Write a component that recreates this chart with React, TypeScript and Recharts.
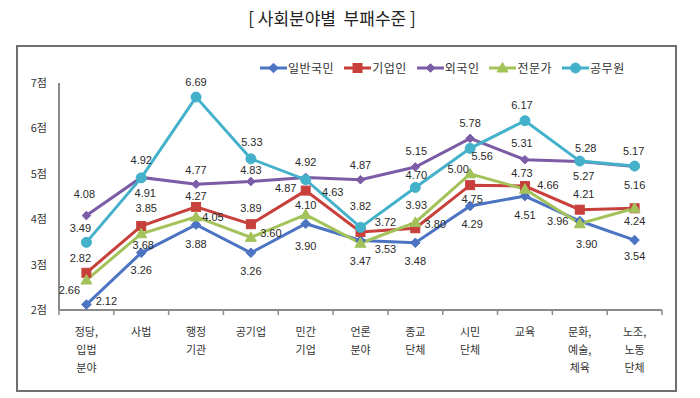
import React from "react";
import { LineChart, Line, XAxis, YAxis } from "recharts";

const categories = [
  "정당,\n입법\n분야",
  "사법",
  "행정\n기관",
  "공기업",
  "민간\n기업",
  "언론\n분야",
  "종교\n단체",
  "시민\n단체",
  "교육",
  "문화,\n예술,\n체육",
  "노조,\n노동\n단체",
];
const seriesNames = ["일반국민", "기업인", "외국인", "전문가", "공무원"];
const generalPublic = [2.12, 3.26, 3.88, 3.26, 3.9, 3.53, 3.48, 4.29, 4.51, 3.96, 3.54];
const businessPeople = [2.82, 3.85, 4.27, 3.89, 4.63, 3.72, 3.8, 4.75, 4.73, 4.21, 4.24];
const foreigners = [4.08, 4.92, 4.77, 4.83, 4.92, 4.87, 5.15, 5.78, 5.31, 5.27, 5.16];
const experts = [2.66, 3.68, 4.05, 3.6, 4.1, 3.47, 3.93, 5.0, 4.66, 3.9, 4.24];
const officials = [3.49, 4.91, 6.69, 5.33, 4.87, 3.82, 4.7, 5.56, 6.17, 5.28, 5.17];
const yTicks = [2, 3, 4, 5, 6, 7];

const seriesKeys = ["s0", "s1", "s2", "s3", "s4"];
const seriesValues = [generalPublic, businessPeople, foreigners, experts, officials];

// styling / layout (not data)
const COLORS = ["#4C74C2", "#C8403C", "#7C5CA6", "#A3C25A", "#44B1CB"];
const SHAPES = ["diamond", "square", "diamondSmall", "triangle", "circle"];
// data label offsets relative to each point [dx, dy]; null = hidden
const LABEL_OFFSETS: (number[] | null)[][] = [
  [[20, -4], [0, 17], [0, 19], [0, 18], [0, 22], [25, 8], [0, 18], [2, 18], [0, 19], [-22, 0], [0, 16]],
  [[-6, -15], [5, -18], [0, -11], [0, -16], [27, 1], [25, -10], [20, -4], [2, 14], [-3, -13], [4, -16], null],
  [[-2, -22], [0, -17], [0, -14], [0, -12], [0, -15], [0, -15], [1, -16], [0, -15], [-3, -17], [4, 14], [0, 18]],
  [[-17, 10], [2, 11], [17, 0], [20, -4], [0, -10], [0, 18], [1, -17], [-12, -5], [23, -4], [7, 20], [0, 13]],
  [[-6, -14], [4, 15], [0, -15], [1, -17], [-20, 8], [0, -21], [1, -12], [12, 8], [-3, -16], [6, -13], [-1, -15]],
];

const data = categories.map((cat, i) => {
  const row: Record<string, any> = { cat };
  seriesKeys.forEach((k, s) => {
    row[k] = seriesValues[s][i];
  });
  return row;
});

const CHART_W = 700;
const CHART_H = 398;
const MARGIN = { top: 83, right: 38, bottom: 0, left: 0 };
const Y_W = 59;
const PLOT_W = CHART_W - MARGIN.left - MARGIN.right - Y_W;
const BAND = PLOT_W / categories.length;
const NUM_FONT = "'Liberation Sans', Arial, sans-serif";
const KR_FONT = "'Noto Sans CJK KR', 'Noto Sans', sans-serif";

function Marker({ shape, cx, cy, color }: { shape: string; cx: number; cy: number; color: string }) {
  if (shape === "diamond") {
    const s = 4.8;
    return <polygon points={`${cx},${cy - s} ${cx + s},${cy} ${cx},${cy + s} ${cx - s},${cy}`} fill={color} stroke={color} />;
  }
  if (shape === "diamondSmall") {
    const s = 4.3;
    return <polygon points={`${cx},${cy - s} ${cx + s},${cy} ${cx},${cy + s} ${cx - s},${cy}`} fill={color} stroke={color} />;
  }
  if (shape === "square") {
    return <rect x={cx - 4.5} y={cy - 4.5} width={9} height={9} fill={color} stroke={color} />;
  }
  if (shape === "triangle") {
    return <polygon points={`${cx},${cy - 5.5} ${cx + 5.5},${cy + 4} ${cx - 5.5},${cy + 4}`} fill={color} stroke={color} />;
  }
  return <circle cx={cx} cy={cy} r={5} fill={color} stroke={color} />;
}

function makeDot(s: number) {
  return (props: any) => {
    const { cx, cy, index, value } = props;
    if (cx == null || cy == null) return <g key={`d${s}-${index}`} />;
    const off = LABEL_OFFSETS[s][index];
    const v = Array.isArray(value) ? value[1] : value;
    return (
      <g key={`d${s}-${index}`}>
        <Marker shape={SHAPES[s]} cx={cx} cy={cy} color={COLORS[s]} />
        {off && (
          <text
            x={cx + off[0]}
            y={cy + off[1]}
            textAnchor="middle"
            dominantBaseline="central"
            fontSize={11}
            fontFamily={NUM_FONT}
            fill="#2a2a2a"
          >
            {Number(v).toFixed(2)}
          </text>
        )}
      </g>
    );
  };
}

function XTick(props: any) {
  const { x, y, payload, index } = props;
  const lines = String(payload.value).split("\n");
  const axisY = y;
  return (
    <g>
      <line x1={x - BAND / 2} x2={x - BAND / 2} y1={axisY} y2={axisY + 5} stroke="#8a8a8a" strokeWidth={1.5} />
      {index === categories.length - 1 && (
        <line x1={x + BAND / 2} x2={x + BAND / 2} y1={axisY} y2={axisY + 5} stroke="#8a8a8a" strokeWidth={1.5} />
      )}
      {lines.map((ln, k) => (
        <text
          key={k}
          x={x}
          y={axisY + 21 + k * 18}
          textAnchor="middle"
          dominantBaseline="central"
          fontSize={11}
          fontFamily={KR_FONT}
          fill="#333"
        >
          {ln}
        </text>
      ))}
    </g>
  );
}

function LegendBox() {
  return (
    <div
      style={{
        position: "absolute",
        left: 260,
        top: 60,
        height: 16,
        display: "flex",
        alignItems: "center",
        fontFamily: KR_FONT,
        fontSize: 12,
        color: "#333",
        whiteSpace: "nowrap",
      }}
    >
      {seriesNames.map((name, s) => (
        <div key={name} style={{ display: "flex", alignItems: "center", marginRight: 10 }}>
          <svg width={27} height={12} style={{ display: "block" }}>
            <line x1={0} x2={27} y1={6} y2={6} stroke={COLORS[s]} strokeWidth={3} />
            <Marker shape={SHAPES[s]} cx={13.5} cy={6} color={COLORS[s]} />
          </svg>
          <span style={{ marginLeft: 1, lineHeight: "16px", letterSpacing: 0.5 }}>{name}</span>
        </div>
      ))}
    </div>
  );
}

export default function App() {
  return (
    <div
      style={{
        position: "absolute",
        left: 0,
        top: 0,
        width: CHART_W,
        height: CHART_H,
        background: "#fff",
        overflow: "hidden",
      }}
    >
      <div
        style={{
          position: "absolute",
          left: 0,
          top: 8,
          width: 664,
          textAlign: "center",
          fontFamily: KR_FONT,
          fontSize: 17,
          lineHeight: "20px",
          color: "#222",
          whiteSpace: "pre",
        }}
      >
        {"[ 사회분야별  부패수준 ]"}
      </div>
      <div
        style={{
          position: "absolute",
          left: 16,
          top: 45,
          width: 661,
          height: 347,
          border: "2px solid #6f6f6f",
          boxSizing: "border-box",
        }}
      />
      <div style={{ position: "absolute", left: 0, top: 0 }}>
        <LineChart width={CHART_W} height={CHART_H} data={data} margin={MARGIN}>
          <XAxis
            dataKey="cat"
            interval={0}
            height={CHART_H - 310}
            padding={{ left: BAND / 2, right: BAND / 2 }}
            tickLine={false}
            tickSize={0}
            tickMargin={0}
            axisLine={{ stroke: "#8a8a8a", strokeWidth: 2 }}
            tick={<XTick />}
          />
          <YAxis
            width={Y_W}
            domain={[2, 7]}
            ticks={yTicks}
            type="number"
            tickLine={false}
            tickSize={6}
            tickMargin={6}
            axisLine={{ stroke: "#8a8a8a", strokeWidth: 2 }}
            tickFormatter={(v: number) => `${v}점`}
            tick={{ fontSize: 11, fontFamily: KR_FONT, fill: "#333" }}
          />
          {seriesKeys.map((k, s) => (
            <Line
              key={k}
              dataKey={k}
              name={seriesNames[s]}
              stroke={COLORS[s]}
              strokeWidth={3}
              dot={makeDot(s)}
              activeDot={false}
              isAnimationActive={false}
              type="linear"
            />
          ))}
        </LineChart>
      </div>
      <LegendBox />
    </div>
  );
}
